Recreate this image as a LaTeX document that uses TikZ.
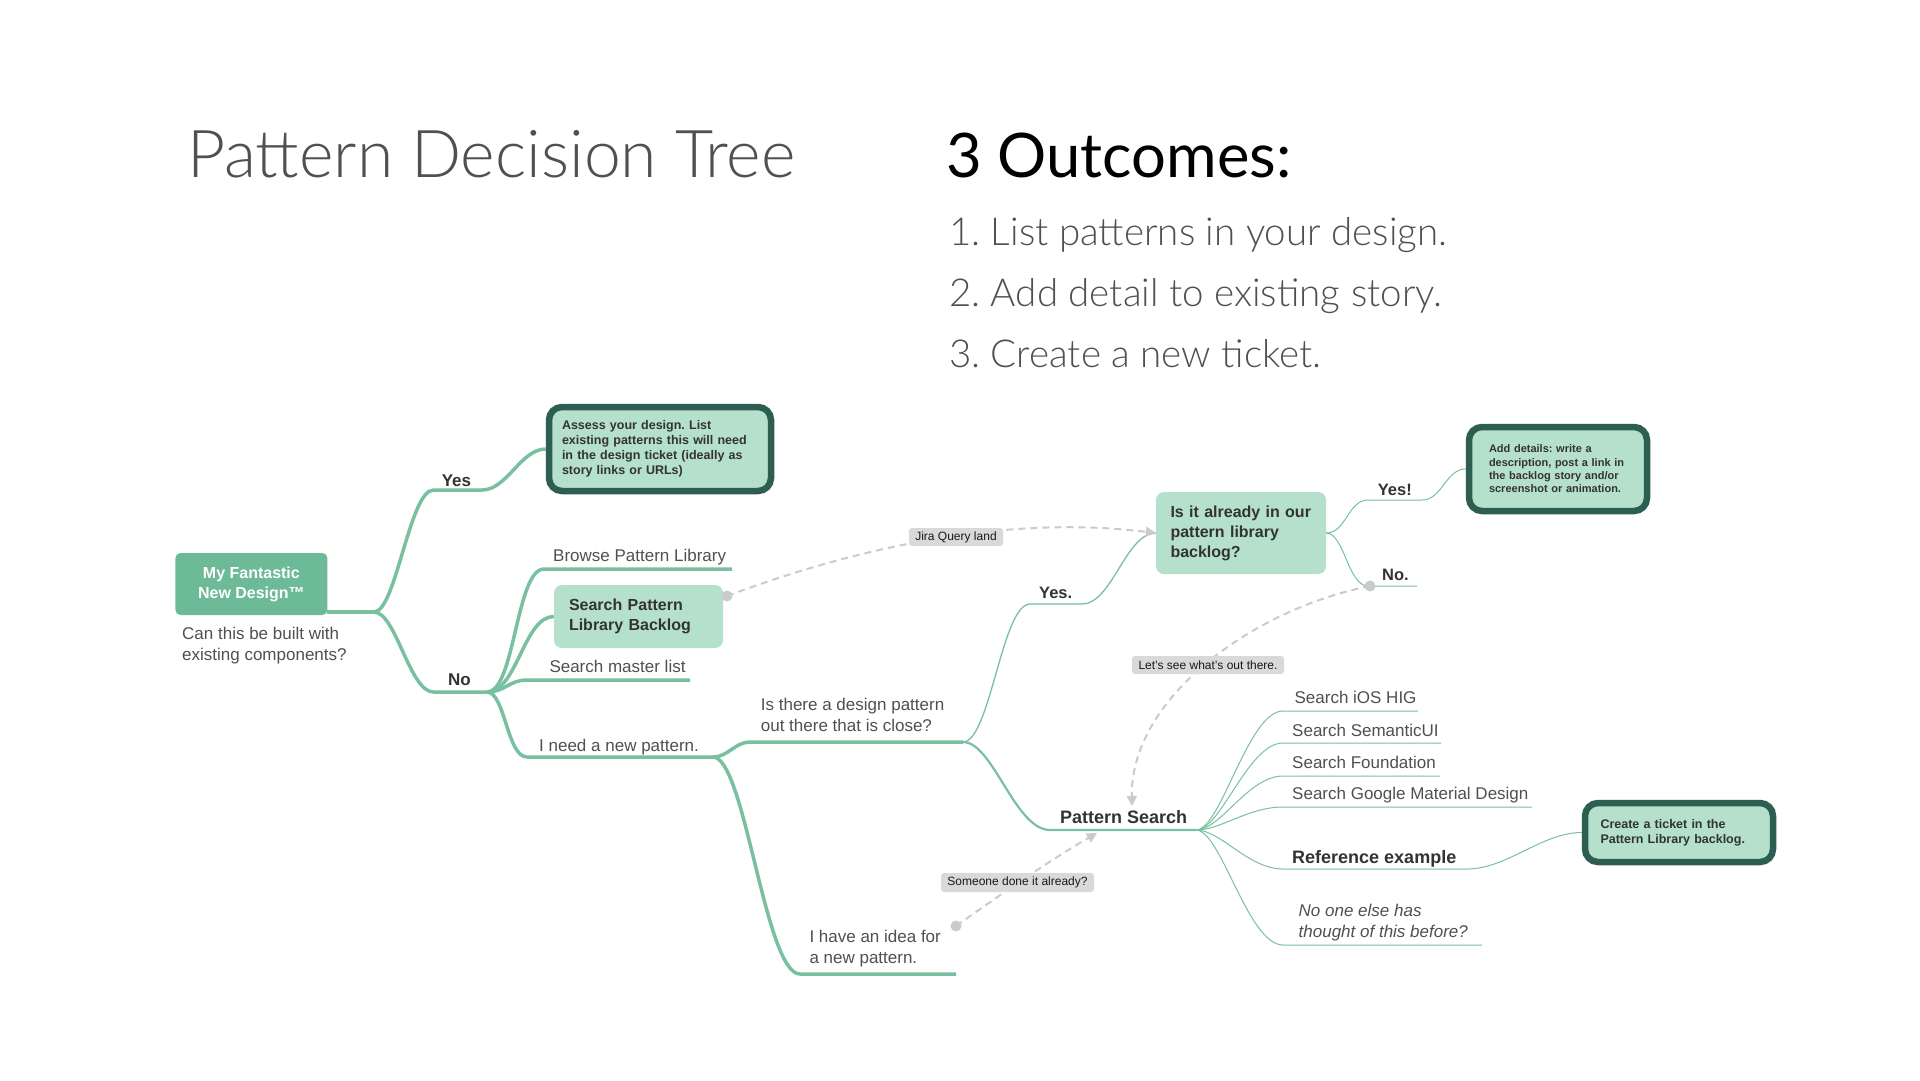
\documentclass[tikz,border=0pt]{standalone}
\usepackage{fontspec}
\setmainfont{Liberation Sans}
\newfontfamily\latolight{Lato Light}
\newfontfamily\latoreg{Lato}
\usetikzlibrary{arrows.meta}
\newcommand\myfs[2]{\fontsize{#1}{#2}\selectfont}
\definecolor{gline}{HTML}{79C0A0}
\definecolor{gbox}{HTML}{6DBA96}
\definecolor{mint}{HTML}{B4E0CC}
\definecolor{dkborder}{HTML}{2E5E52}
\definecolor{txt}{HTML}{505050}
\definecolor{btxt}{HTML}{333333}
\definecolor{dashc}{HTML}{CBCBCB}
\definecolor{lblfill}{HTML}{D9D9D9}
\definecolor{titlec}{HTML}{505050}
\tikzset{
  gthick/.style={draw=gline, line width=3.5pt},
  gmed/.style={draw=gline, line width=2.2pt},
  gthin/.style={draw=gline, line width=1.3pt},
  ghair/.style={draw=gline, line width=1pt},
  tlbl/.style={anchor=base west, inner sep=0pt, text=txt, font=\myfs{17}{21}},
  blbl/.style={anchor=base west, inner sep=0pt, text=btxt, font=\bfseries\myfs{17}{21}},
  mlbl/.style={anchor=north west, inner sep=0pt, text=txt, align=left, font=\myfs{17}{21}},
  outbox/.style={draw=dkborder, line width=6.5pt, fill=mint, rounded corners=13pt, text=btxt, align=left, inner sep=0pt},
  softbox/.style={fill=mint, rounded corners=8pt, text=btxt, align=left, inner sep=0pt, font=\bfseries\myfs{16}{20}},
  tag/.style={fill=lblfill, rounded corners=3pt, text=black!90, inner sep=0pt, font=\myfs{12}{14}},
  dashl/.style={draw=dashc, line width=2pt, dash pattern=on 7pt off 5pt},
}
\begin{document}
\frenchspacing
\begin{tikzpicture}[x=1pt,y=-1pt]
\useasboundingbox (0,0) rectangle (1920,1080);
\fill[white] (0,0) rectangle (1920,1080);

% titles
\node[anchor=base west, inner sep=0pt, text=titlec, font=\latolight\myfs{66}{72}] (title) at (187,177) {Pattern Decision Tree};
\node[anchor=base west, inner sep=0pt, text=black, font=\latoreg\myfs{61.5}{68}] (outc) at (946,177) {3 Outcomes:};
\node[anchor=base west, inner sep=0pt, text=txt, font=\latolight\myfs{38.5}{46}] (o1) at (949,245) {1. List patterns in your design.};
\node[anchor=base west, inner sep=0pt, text=txt, font=\latolight\myfs{38.5}{46}] (o2) at (949,306) {2. Add detail to existing story.};
\node[anchor=base west, inner sep=0pt, text=txt, font=\latolight\myfs{38.5}{46}] (o3) at (949,367) {3. Create a new ticket.};

% boxes
\node[fill=gbox, rounded corners=5pt, text=white, align=center, inner sep=0pt, minimum width=152pt, minimum height=62pt, font=\bfseries\myfs{16}{20}] (root) at (251.4,584) {My Fantastic\\New Design™};
\node[outbox, minimum width=222pt, minimum height=84pt, text width=196pt, font=\bfseries\myfs{12.5}{15}] (assess) at (660,449) {Assess your design. List\\existing patterns this will need\\in the design ticket (ideally as\\story links or URLs)};
\node[softbox, minimum width=169pt, minimum height=63pt, text width=139pt] (backlog) at (638.5,616.5) {Search Pattern\\Library Backlog};
\node[softbox, minimum width=170pt, minimum height=82pt, text width=150pt] (isit) at (1241,533) {\hspace*{4.5pt}Is it already in our\\\hspace*{4.5pt}pattern library\\\hspace*{4.5pt}backlog?};
\node[outbox, minimum width=178pt, minimum height=84pt, text width=138pt, font=\bfseries\myfs{11}{13.3}] (adddet) at (1558,469) {Add details: write a\\description, post a link in\\the backlog story and/or\\screenshot or animation.};
\node[outbox, minimum width=188pt, minimum height=59pt, text width=157pt, font=\bfseries\myfs{12.5}{15}] (ticket) at (1679,832.5) {Create a ticket in the\\Pattern Library backlog.};

% text labels
\node[mlbl] (canthis) at (182,626.6) {Can this be built with\\existing components?};
\node[blbl] (yes) at (441.6,486) {Yes};
\node[blbl] (no) at (447.8,685) {No};
\node[tlbl] (browse) at (553,561.7) {Browse Pattern Library};
\node[tlbl] (master) at (549.3,672.3) {Search master list};
\node[tlbl] (need) at (539,751) {I need a new pattern.};
\node[mlbl] (isthere) at (760.7,697.6) {Is there a design pattern\\out there that is close?};
\node[mlbl] (idea) at (809.3,929.9) {I have an idea for\\a new pattern.};
\node[blbl, font=\bfseries\myfs{16.5}{20}] (yesd) at (1039,598) {Yes.};
\node[blbl, font=\bfseries\myfs{16.5}{20}] (yesx) at (1377.6,495) {Yes!};
\node[blbl, font=\bfseries\myfs{16.5}{20}] (nod) at (1382,580) {No.};
\node[blbl, font=\bfseries\myfs{18}{21}] (psearch) at (1060,823.3) {Pattern Search};
\node[tlbl] (ios) at (1294.4,703.3) {Search iOS HIG};
\node[tlbl] (sem) at (1292,736.7) {Search SemanticUI};
\node[tlbl] (found) at (1292,768.3) {Search Foundation};
\node[tlbl] (google) at (1292,799.3) {Search Google Material Design};
\node[blbl, font=\bfseries\myfs{18}{21}] (ref) at (1292,863.3) {Reference example};
\node[mlbl, font=\itshape\myfs{17}{21}] (none) at (1298.5,904.3) {No one else has\\thought of this before?};

% coordinates
\coordinate (trunkS) at (327,612);
\coordinate (split) at (374,612);
\coordinate (yesL) at (433.5,490); \coordinate (yesR) at (482,490);
\coordinate (noL) at (433.5,692); \coordinate (noR) at (487,692);
\coordinate (browseL) at (544,569); \coordinate (browseR) at (732,569);
\coordinate (masterL) at (527,680); \coordinate (masterR) at (690,680);
\coordinate (needL) at (527,757); \coordinate (needR) at (713,757);
\coordinate (isthereL) at (750,742); \coordinate (isthereR) at (963,742);
\coordinate (ideaL) at (800,974); \coordinate (ideaR) at (956,974);
\coordinate (yesdL) at (1030,604); \coordinate (yesdR) at (1082,604);
\coordinate (psL) at (1050,830); \coordinate (psR) at (1196,830);
\coordinate (yesxL) at (1368,500); \coordinate (yesxR) at (1422,500);
\coordinate (nodL) at (1368,586); \coordinate (nodR) at (1417,586);
\coordinate (iosL) at (1283,711); \coordinate (iosR) at (1418,711);
\coordinate (semL) at (1283,743); \coordinate (semR) at (1441,743);
\coordinate (foundL) at (1283,776); \coordinate (foundR) at (1440,776);
\coordinate (googleL) at (1283,807); \coordinate (googleR) at (1532,807);
\coordinate (refL) at (1283,869); \coordinate (refR) at (1467,869);
\coordinate (noneL) at (1283,945); \coordinate (noneR) at (1482,945);
\coordinate (jiraS) at (727,596);
\coordinate (nodS) at (1370,586);
\coordinate (psArrow) at (1132,806);
\coordinate (ideaS) at (956,926);
\coordinate (idArrow) at (1097,833);

% green connectors
\draw[gthick] (trunkS) -- (split);
\draw[gthick] (split) .. controls +(22,0) and +(-24,0) .. (yesL) -- (yesR) .. controls +(25,0) and +(-25,0) .. (assess.west);
\draw[gthick] (split) .. controls +(22,0) and +(-24,0) .. (noL) -- (noR);
\draw[gthick] (noR) .. controls +(28,0) and +(-28,0) .. (browseL) -- (browseR);
\draw[gthick] (noR) .. controls +(30,0) and +(-30,0) .. (backlog.west);
\draw[gthick] (noR) .. controls +(18,0) and +(-18,0) .. (masterL) -- (masterR);
\draw[gthick] (noR) .. controls +(18,0) and +(-20,0) .. (needL) -- (needR);
\draw[gthick] (needR) .. controls +(15,0) and +(-15,0) .. (isthereL) -- (isthereR);
\draw[gthick] (needR) .. controls +(32,0) and +(-35,0) .. (ideaL) -- (ideaR);
\draw[gmed] (isthereR) .. controls +(30,0) and +(-35,0) .. (psL) -- (psR);
\draw[gthin] (isthereR) .. controls +(27,0) and +(-28,0) .. (yesdL) -- (yesdR) .. controls +(30,0) and +(-30,0) .. (isit.west);
\draw[ghair] (isit.east) .. controls +(20,0) and +(-20,0) .. (yesxL) -- (yesxR) .. controls +(20,0) and +(-20,0) .. (adddet.west);
\draw[ghair] (isit.east) .. controls +(18,0) and +(-20,0) .. (nodL) -- (nodR);
\draw[ghair] (psR) .. controls +(25,0) and +(-35,0) .. (iosL) -- (iosR);
\draw[ghair] (psR) .. controls +(25,0) and +(-35,0) .. (semL) -- (semR);
\draw[ghair] (psR) .. controls +(25,0) and +(-35,0) .. (foundL) -- (foundR);
\draw[ghair] (psR) .. controls +(25,0) and +(-35,0) .. (googleL) -- (googleR);
\draw[ghair] (psR) .. controls +(25,0) and +(-35,0) .. (refL) -- (refR);
\draw[ghair] (psR) .. controls +(25,0) and +(-35,0) .. (noneL) -- (noneR);
\draw[ghair] (refR) .. controls +(40,0) and +(-40,0) .. (ticket.west);

% dashed connectors
\draw[dashl, -{Triangle[length=10pt,width=10pt]}] (jiraS) .. controls +(123,-46) and +(-154,-19) .. (isit.west);
\draw[dashl, -{Triangle[length=10pt,width=10pt]}] (nodS) .. controls +(-120,24) and +(-2,-106) .. (psArrow);
\draw[dashl, -{Triangle[length=10pt,width=10pt]}] (ideaS) .. controls +(44,-31) and +(-47,27) .. (idArrow);
\fill[dashc] (jiraS) circle (5.5);
\fill[dashc] (nodS) circle (5.5);
\fill[dashc] (ideaS) circle (5.5);

% tags
\node[tag, minimum width=94pt, minimum height=18pt] (jira) at (956,537) {Jira Query land};
\node[tag, minimum width=152pt, minimum height=18pt] (lets) at (1208,665) {Let’s see what’s out there.};
\node[tag, minimum width=153pt, minimum height=19pt] (someone) at (1017.5,882.5) {Someone done it already?};
\end{tikzpicture}
\end{document}
